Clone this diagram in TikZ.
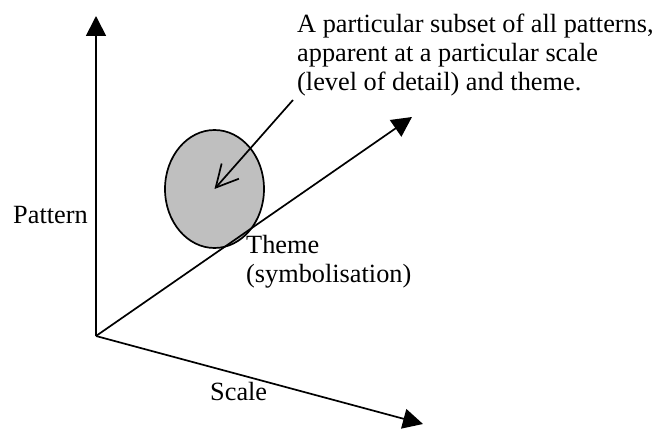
\documentclass[tikz,border=0pt]{standalone}
\usepackage{fontspec}
\setmainfont{Liberation Serif}
\usetikzlibrary{arrows.meta}
\tikzset{axis/.style = {line width = 1.7pt, -{Triangle[length = 20pt, width = 20pt]}},
         pointer/.style = {line width = 1.7pt, -{Straight Barb[length = 22pt, width = 23pt, line width = 1.7pt]}},
         label/.style = {inner sep = 0, align = left, font = \fontsize{26.3pt}{29pt}\selectfont}}

\begin{document}
\begin{tikzpicture}[x = 1pt, y = -1pt]
    \useasboundingbox (0,0) rectangle (660,430);
    \coordinate (o) at (96,336);
    \coordinate (pattern) at (96,16);
    \coordinate (theme) at (412,117);
    \coordinate (scale) at (423,424);
    \coordinate (centre) at (214.5,189);
    \coordinate (start) at (293,100);
    \filldraw[fill = gray!50, line width = 1.7pt] (centre) ellipse [x radius = 49.5pt, y radius = 59pt];
    \draw[axis] (o) -- (pattern);
    \draw[axis] (o) -- (theme);
    \draw[axis] (o) -- (scale);
    \draw[pointer] (start) -- (centre);
    \node[label, anchor = base west] (patternlabel) at (13,223) {Pattern};
    \node[label, anchor = base west] (scalelabel) at (210,400) {Scale};
    \node[label, anchor = north west] (themelabel) at (246,235) {Theme\\(symbolisation)};
    \node[label, anchor = north west] (note) at (297,14) {A particular subset of all patterns,\\apparent at a particular scale\\(level of detail) and theme.};
\end{tikzpicture}
\end{document}
